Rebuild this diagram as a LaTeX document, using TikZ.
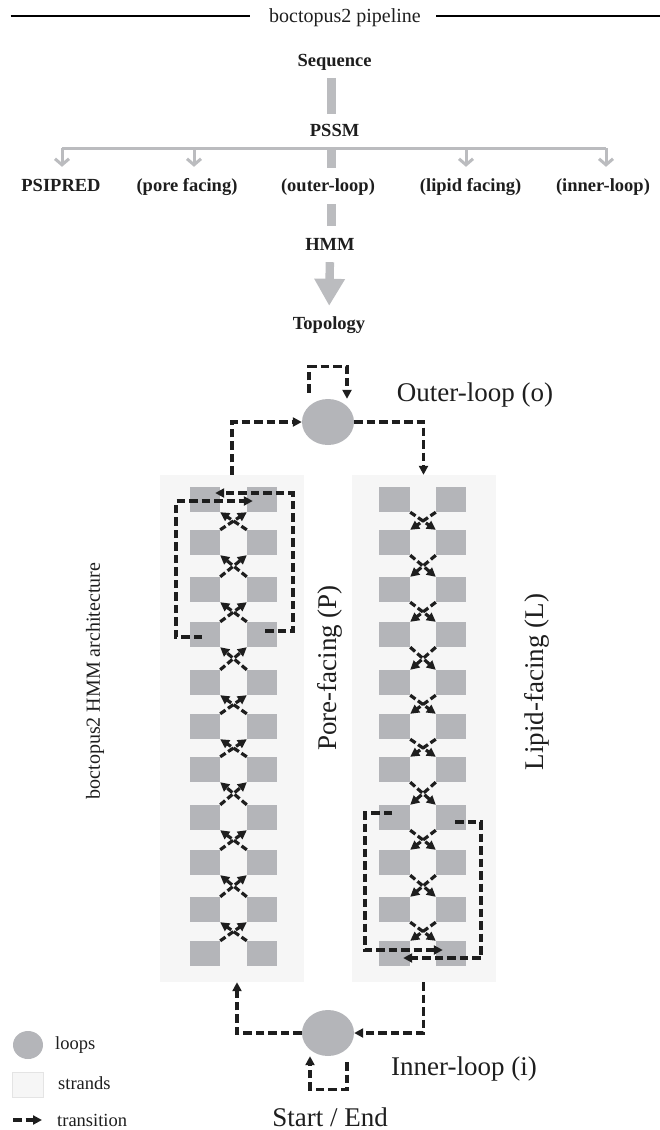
\documentclass[tikz,border=0pt]{standalone}
\usepackage{fontspec}
\setmainfont{Liberation Serif}
\usetikzlibrary{arrows.meta,calc,shapes.geometric}

\definecolor{stategray}{HTML}{B4B5B9}
\definecolor{pipegray}{HTML}{BBBCBF}
\definecolor{strandfill}{HTML}{F6F6F6}
\definecolor{strandline}{HTML}{E4E4E4}
\definecolor{inkdark}{HTML}{1E1E1E}

\begin{document}
\begin{tikzpicture}[x=1pt,y=-1pt,
  pipe/.style={font=\bfseries\fontsize{18.5}{20}\selectfont, inner sep=0pt,
    text height=12.5pt, text depth=3.5pt, text=inkdark},
  big/.style={font=\fontsize{27}{30}\selectfont, inner sep=0pt, text=inkdark},
  legend/.style={font=\fontsize{18.5}{20}\selectfont, inner sep=0pt, text=inkdark},
  state/.style={rectangle, fill=stategray, minimum width=30pt, minimum height=25pt, inner sep=0pt},
  loopstate/.style={ellipse, fill=stategray, minimum width=52pt, minimum height=46pt, inner sep=0pt},
  strandbox/.style={rectangle, fill=strandfill, minimum width=144pt, minimum height=507pt, inner sep=0pt},
  trans/.style={draw=inkdark, line width=3.2pt, dash pattern=on 8.5pt off 4pt,
    -{Triangle[length=9pt,width=9pt]}},
  crossarr/.style={trans, dash pattern=on 6.5pt off 3pt},
  bar/.style={draw=pipegray, line width=9pt},
  branchline/.style={draw=pipegray, line width=3pt},
  branch/.style={draw=pipegray, line width=3pt, -{Straight Barb[length=6pt,width=14pt]}},
  bigarrow/.style={draw=pipegray, line width=8.4pt, -{Triangle[length=27pt,width=29pt]}},
  rule/.style={draw=black, line width=2pt}
]
\useasboundingbox (0,0) rectangle (660,1130);

% ---------------- pipeline ----------------
\node[font=\fontsize{20}{24}\selectfont, inner sep=0pt, text=inkdark] (title) at (345,18) {boctopus2 pipeline};
\coordinate (ruleL) at (10.5,16);
\coordinate (ruleR) at (660,16);
\draw[rule, shorten >=19pt] (ruleL) -- (ruleL -| title.west);
\draw[rule, shorten <=15pt] (ruleR -| title.east) -- (ruleR);

\node[pipe] (seq)  at (334.6,61.6) {Sequence};
\node[pipe] (pssm) at (334.6,132) {PSSM};
\coordinate (split) at (331,148);

\node[pipe] (psipred)  at (61,187)    {PSIPRED};
\node[pipe] (pPore)    at (187,187)   {(pore facing)};
\node[pipe] (pOuter)   at (328,187)   {(outer-loop)};
\node[pipe] (pLipid)   at (470.6,187) {(lipid facing)};
\node[pipe] (pInner)   at (603,187)   {(inner-loop)};
\node[pipe] (hmm)      at (330,246)   {HMM};
\node[pipe] (topo)     at (329,325)   {Topology};

\draw[bar, shorten <=8pt, shorten >=10pt] (seq.south -| split) -- (pssm.north -| split);
\draw[branchline] ($(psipred.north |- split)+(1,0)$) -- ($(pInner.north |- split)+(3,0)$);
\foreach \lab/\dx in {psipred/1, pPore/7, pLipid/-4.6, pInner/3}
  \draw[branch] ($(\lab.north |- split)+(\dx,0)$) -- ($(\lab.north)+(\dx,-12)$);
\draw[bar, shorten >=11pt] (split) -- (split |- pOuter.north);
\draw[bar, shorten <=9pt, shorten >=12pt] (pOuter.south -| split) -- (hmm.north -| split);
\draw[bigarrow, shorten <=8pt, shorten >=11pt] (hmm.south) -- (topo.north);

% ---------------- HMM architecture ----------------
\node[strandbox] (leftbox)  at (232,728.5) {};
\node[strandbox] (rightbox) at (423.5,728.5) {};

\node[loopstate] (outer) at (328,422) {};
\node[loopstate] (inner) at (328,1033) {};

\foreach \k/\t in {1/487,2/530,3/577,4/622,5/670,6/714,7/757,8/805,9/850,10/897,11/941} {
  \node[state] (lA\k) at (205,\t+12.5) {};
  \node[state] (lB\k) at (262,\t+12.5) {};
  \node[state, minimum width=31pt] (rA\k) at (394.5,\t+12.5) {};
  \node[state] (rB\k) at (451,\t+12.5) {};
}

% strand-to-strand transitions: pore-facing runs upward, lipid-facing downward
\foreach \k in {1,...,10} {
  \pgfmathtruncatemacro{\n}{\k+1}
  \draw[crossarr] (lA\n.north east) -- (lB\k.south west);
  \draw[crossarr] (lB\n.north west) -- (lA\k.south east);
  \draw[crossarr] (rA\k.south east) -- (rB\n.north west);
  \draw[crossarr] (rB\k.south west) -- (rA\n.north east);
}

% skip transitions
\draw[trans] ($(lA4.center)+(-3,2.5)$) -- ++(-26,0) |- ($(lB1.west)+(6,1.5)$);
\draw[trans] ($(lB4.center)+(3,-3.5)$) -- ++(28,0) |- ($(lA1.east)+(-5,-6.5)$);
\draw[trans] ($(rA8.center)+(-2.5,-4.5)$) -- ++(-27,0) |- ($(rB11.west)+(7,-3.5)$);
\draw[trans] ($(rB8.center)+(4,4.5)$) -- ++(26,0) |- ($(rA11.east)+(-7,4.5)$);

% loop connections
\draw[trans] (leftbox.north) |- (outer.west);
\draw[trans] (outer.east) -| (rightbox.north);
\draw[trans] (rightbox.south) |- (inner.east);
\draw[trans] (inner.west) -| ($(leftbox.south)+(5,0)$);
\draw[trans] ($(outer.north)+(-19,-6)$) -- ++(0,-26) -| ($(outer.north)+(19,0)$);
\draw[trans] ($(inner.south)+(19,6)$) -- ++(0,27) -| ($(inner.south)+(-18,0)$);

% labels
\node[big] (outerName) at (475,395) {Outer-loop (o)};
\node[big] (innerName) at (464,1069) {Inner-loop (i)};
\node[big] (startEnd)  at (330,1117) {Start / End};
\node[big, rotate=90] (poreName)  at (330,668) {Pore-facing (P)};
\node[big, rotate=90] (lipidName) at (537,682) {Lipid-facing (L)};
\node[font=\fontsize{20}{22}\selectfont, inner sep=0pt, text=inkdark, rotate=90] (archName) at (95,681) {boctopus2 HMM architecture};

% ---------------- legend ----------------
\node[loopstate, minimum width=30pt, minimum height=28pt] (legLoop) at (28,1045) {};
\node[legend, anchor=west] (legLoopTxt) at (55,1045) {loops};
\node[rectangle, fill=strandfill, draw=strandline, line width=0.6pt, minimum width=31pt, minimum height=25pt, inner sep=0pt] (legStrand) at (27.5,1084.5) {};
\node[legend, anchor=west] (legStrandTxt) at (58,1083) {strands};
\coordinate (legFrom) at (13,1120);
\node[legend, anchor=west] (legTransTxt) at (57,1120) {transition};
\draw[trans, shorten >=15pt] (legFrom) -- (legTransTxt.west);
\end{tikzpicture}
\end{document}
